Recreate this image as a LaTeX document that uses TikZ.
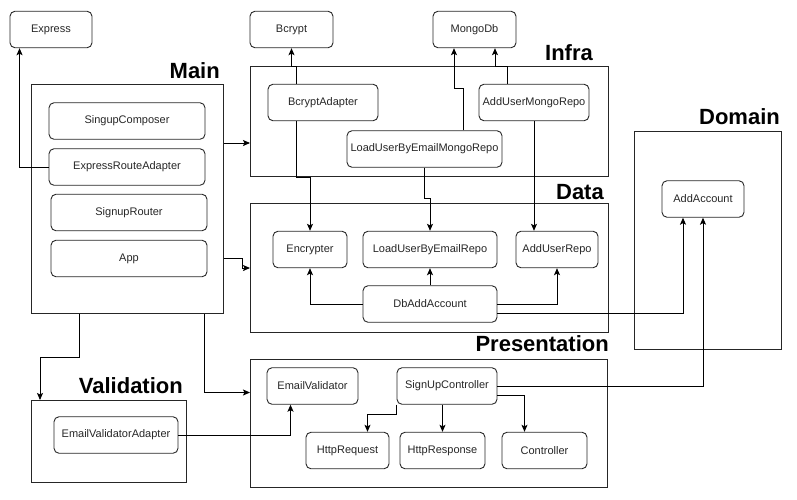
\documentclass[tikz,border=0pt]{standalone}
\usepackage{fontspec}
\setmainfont{Liberation Sans}
\usepackage{tikz}
\usetikzlibrary{positioning,arrows.meta}

\begin{document}
\begin{tikzpicture}[x=1pt,y=-1pt,
  comp/.style={draw=black!85,line width=0.9pt,rounded corners=5pt,minimum height=36.5pt,inner sep=0pt,text=black!85,font=\fontsize{11}{13}\selectfont},
  layer/.style={draw=black!85,line width=1pt,anchor=north west,inner sep=0pt},
  title/.style={anchor=base east,inner sep=0pt,font=\fontsize{22}{24}\selectfont\bfseries},
  arr/.style={draw=black,line width=0.9pt,-{Stealth[length=7pt,width=6pt,inset=1.5pt]}}]
\useasboundingbox (0,0) rectangle (797,499);
% layers
\node[layer,minimum width=192pt,minimum height=229pt] (main) at (31,84) {};
\node[layer,minimum width=358pt,minimum height=110pt] (infra) at (250,66) {};
\node[layer,minimum width=358pt,minimum height=129pt] (data) at (250,203) {};
\node[layer,minimum width=147pt,minimum height=218pt] (domain) at (634,131) {};
\node[layer,minimum width=357pt,minimum height=128pt] (pres) at (250,359) {};
\node[layer,minimum width=155pt,minimum height=82pt] (valid) at (31,400) {};
\node[title] (tmain) at (220,78) {Main};
\node[title] (tinfra) at (593,60) {Infra};
\node[title] (tdata) at (604,199) {Data};
\node[title] (tdomain) at (780,124) {Domain};
\node[title] (tpres) at (609,351) {Presentation};
\node[title] (tvalid) at (183,393) {Validation};
% components
\foreach \n/\x/\y/\w/\t in {
  express/51/29.5/82/Express, bcrypt/291.5/29.5/83/Bcrypt, mongo/474.5/29.5/83/MongoDb,
  composer/127/121/156/SingupComposer, routeadapter/127/167/156/ExpressRouteAdapter,
  router/129/212.5/156/SignupRouter, app/129/258.5/156/App,
  bcad/323/102.5/110/BcryptAdapter, lmongo/424.5/149/155/LoadUserByEmailMongoRepo,
  amongo/534/102.5/110/AddUserMongoRepo,
  enc/310/249.5/74/Encrypter, lrepo/430/249.5/134/LoadUserByEmailRepo,
  aurepo/557/249.5/82/AddUserRepo, dbadd/430/304/134/DbAddAccount,
  addacc/703/199/82/AddAccount,
  evalid/312.5/386/91/EmailValidator, sctrl/447/386/100/SignUpController,
  hreq/347.5/450.5/83/HttpRequest, hres/442.5/450.5/85/HttpResponse,
  ctrl/544.5/450.5/85/Controller, evadapter/116/435/124/EmailValidatorAdapter} {
  \node[comp,minimum width=\w pt] (\n) at (\x,\y) {\t};
}
% main
\draw[arr] (routeadapter.west) -| ([xshift=10pt]express.south west);
\draw[arr] ([yshift=56pt]main.east) -- ([yshift=56pt]main.east -| infra.west);
\draw[arr] (main.east |- app.east) -- ++(18,0) |- (data.west);
\draw[arr] ([xshift=-48pt]main.south) -- ++(0,43) -| ([xshift=9pt]valid.north west);
\draw[arr] ([xshift=77pt]main.south) |- ([yshift=31pt]pres.west);
% infra
\draw[arr] ([xshift=-27pt]bcad.north) -- ([xshift=-27pt]bcad.north |- infra.north) -| (bcrypt.south);
\draw[arr] ([xshift=-27pt]bcad.south) -- ([xshift=-27pt]bcad.south |- infra.south) -| (enc.north);
\draw[arr] ([xshift=38.5pt]lmongo.north) -- ++(0,-42) -| ([xshift=-20.5pt]mongo.south);
\draw[arr] ([xshift=-27pt]amongo.north) -- ([xshift=-27pt]amongo.north |- infra.north) -| ([xshift=20.5pt]mongo.south);
\draw[arr] (lmongo.south) -- ++(0,31) -| (lrepo.north);
\draw[arr] (amongo.south) -- (amongo.south |- aurepo.north);
% data
\draw[arr] (dbadd.west) -| (enc.south);
\draw[arr] (dbadd.north) -- (lrepo.south);
\draw[arr] (dbadd.east) -| (aurepo.south);
\draw[arr] ([yshift=-9pt]dbadd.east) -| ([xshift=-20pt]addacc.south);
% presentation
\draw[arr] (sctrl.east) -| (addacc.south);
\draw[arr] (sctrl.south west) -- ++(0,10) -| ([xshift=20pt]hreq.north);
\draw[arr] (hres.north |- sctrl.south) -- (hres.north);
\draw[arr] ([yshift=-9pt]sctrl.east) -| ([xshift=-20pt]ctrl.north);
\draw[arr] (evadapter.east) -| ([xshift=-22pt]evalid.south);
\end{tikzpicture}
\end{document}
